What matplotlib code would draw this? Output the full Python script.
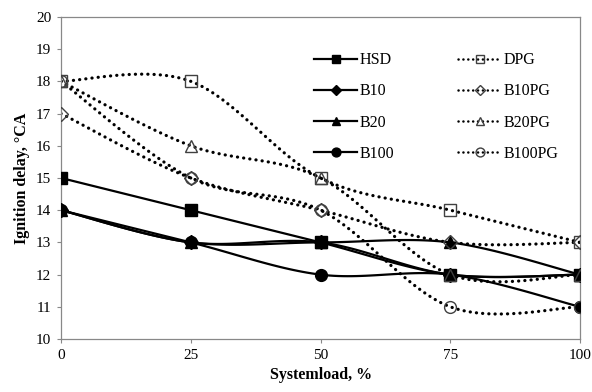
import numpy as np
import matplotlib
matplotlib.use('Agg')
from matplotlib import pyplot as plt

# System load (%) and ignition delay (deg CA)
load = [0, 25, 50, 75, 100]

hsd = [15, 14, 13, 12, 12]
b10 = [14, 13, 13, 12, 12]
b20 = [14, 13, 13, 13, 12]
b100 = [14, 13, 12, 12, 11]

dpg = [18, 18, 15, 14, 13]
b10pg = [17, 15, 14, 13, 13]
b20pg = [18, 16, 15, 12, 12]
b100pg = [18, 15, 14, 11, 11]

plt.rcParams['font.family'] = ['Liberation Serif', 'DejaVu Serif']


def smooth(xs, ys, n=30):
    '''
    Excel style smoothed line: Bezier segments with Catmull-Rom controls.
    '''
    p = np.column_stack([xs, ys]).astype(float)
    p = np.vstack([p[0], p, p[-1]])
    out = []
    t = np.linspace(0, 1, n)[:, None]
    for i in range(1, len(p) - 2):
        p0, p1, p2, p3 = p[i - 1], p[i], p[i + 1], p[i + 2]
        c1 = p1 + (p2 - p0) / 6
        c2 = p2 - (p3 - p1) / 6
        seg = ((1 - t) ** 3) * p1 + 3 * ((1 - t) ** 2) * t * c1 \
            + 3 * (1 - t) * t ** 2 * c2 + t ** 3 * p2
        out.append(seg if i == 1 else seg[1:])
    out = np.vstack(out)
    return out[:, 0], out[:, 1]


fig = plt.figure(figsize=(5.92, 3.92), dpi=100)
ax = fig.add_axes([0.103, 0.135, 0.877, 0.822])

dot = (0, (0.05, 1.9))
series = [
    ('HSD', hsd, 's', '-', True),
    ('B10', b10, 'D', '-', True),
    ('B20', b20, '^', '-', True),
    ('B100', b100, 'o', '-', True),
    ('DPG', dpg, 's', dot, False),
    ('B10PG', b10pg, 'D', dot, False),
    ('B20PG', b20pg, '^', dot, False),
    ('B100PG', b100pg, 'o', dot, False),
]

handles = []
for name, vals, mk, ls, filled in series:
    sx, sy = smooth(load, vals)
    lw = 1.6 if filled else 2.3
    ms = 8.5 if mk != 'D' else 7
    ax.plot(sx, sy, color='black', linestyle=ls, linewidth=lw,
            dash_capstyle='round', zorder=2)
    if filled:
        ax.plot(load, vals, linestyle='none', marker=mk, markersize=ms,
                color='black', zorder=3)
    else:
        ax.plot(load, vals, linestyle='none', marker=mk, markersize=ms,
                markerfacecolor='none', markeredgecolor='#404040',
                markeredgewidth=1.0, zorder=3)
    h, = ax.plot([], [], color='black', linestyle=ls,
                 linewidth=1.6 if filled else 1.8,
                 dash_capstyle='round', marker=mk, markersize=ms * 0.75,
                 markerfacecolor='black' if filled else 'none',
                 markeredgecolor='black' if filled else '#404040',
                 markeredgewidth=1.0, label=name)
    handles.append(h)

ax.set_xlim(0, 100)
ax.set_ylim(10, 20)
ax.set_xticks(load)
ax.set_yticks(np.arange(10, 21, 1))
ax.tick_params(labelsize=11, length=3, color='#888888', pad=4)
for s in ax.spines.values():
    s.set_color('#888888')
    s.set_linewidth(0.9)

ax.set_xlabel('Systemload, %', fontsize=11.5, fontweight='bold', labelpad=4)
ax.set_ylabel('Ignition delay, \u00b0CA', fontsize=11.5, fontweight='bold',
              labelpad=4)

ax.legend(handles=handles, ncol=2, frameon=False, fontsize=11.5,
          loc='upper left', bbox_to_anchor=(0.46, 0.935),
          handlelength=2.7, handletextpad=0.15, labelspacing=0.95,
          columnspacing=4.0)

plt.savefig('out.png', dpi=100)
